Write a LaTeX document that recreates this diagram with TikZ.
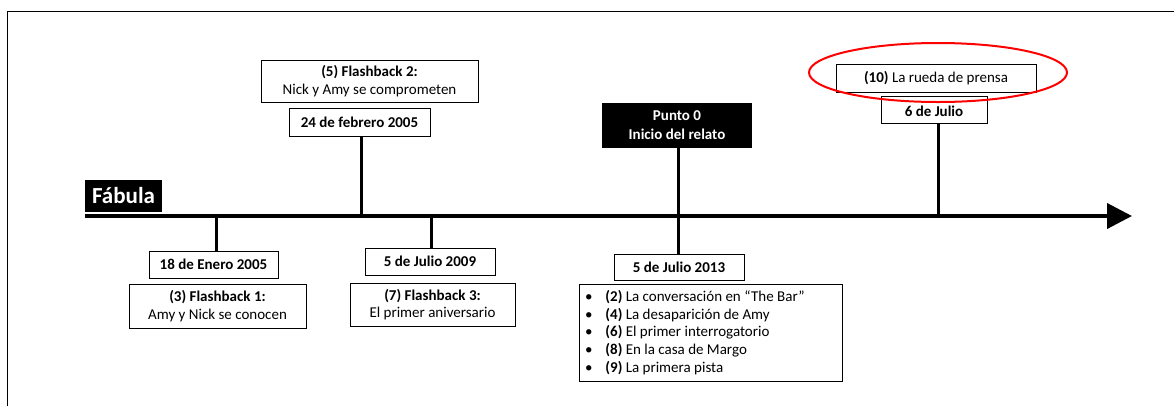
\documentclass[tikz,border=0pt]{standalone}
\usepackage{fontspec}
\setmainfont{Carlito}
\usetikzlibrary{arrows.meta,shapes.geometric}
\begin{document}
\begin{tikzpicture}[x=1pt,y=-1pt,
  box/.style={draw=black,line width=0.8pt,fill=white,inner sep=0pt,align=center,font=\fontsize{15}{17.5}\selectfont},
  datebox/.style={box,font=\bfseries\fontsize{15}{17.5}\selectfont},
  blackbox/.style={fill=black,text=white,inner sep=0pt,align=center,font=\bfseries\fontsize{15}{19}\selectfont},
  tick/.style={line width=3pt},
  axis/.style={line width=4pt,-{Triangle[length=25pt,width=25pt]}},
]
\useasboundingbox (0,0) rectangle (1174,405);
\begin{scope}
\clip (0,0) rectangle (1174,405);
\draw[line width=1pt] (7,411) -- (7,11) -- (1180,11);
\end{scope}

% axis
\coordinate (a0) at (85,216);
\coordinate (a1) at (1132,216);
\draw[axis] (a0) -- (a1);

% tick coordinates on axis
\coordinate (t1) at (216,216);
\coordinate (t2) at (361,216);
\coordinate (t3) at (431,216);
\coordinate (t4) at (678,216);
\coordinate (t5) at (938,216);

% Fabula
\node[blackbox,minimum width=77pt,minimum height=32pt,font=\bfseries\fontsize{23}{24}\selectfont] (fab) at (123.5,196) {Fábula};

% Nodes
\node[datebox,minimum width=129pt,minimum height=27pt] (d1) at (213.5,264.5) {18 de Enero 2005};
\node[box,minimum width=177pt,minimum height=44pt] (f1) at (217.5,306) {\textbf{(3) Flashback 1:}\\Amy y Nick se conocen};

\node[datebox,minimum width=141pt,minimum height=28pt] (d2) at (359.5,122) {24 de febrero 2005};
\node[box,minimum width=217pt,minimum height=42pt] (f2) at (369.5,81) {\textbf{(5) Flashback 2:}\\Nick y Amy se comprometen};

\node[datebox,minimum width=130pt,minimum height=27pt] (d3) at (430,261.5) {5 de Julio 2009};
\node[box,minimum width=165pt,minimum height=43pt] (f3) at (432.5,304.5) {\textbf{(7) Flashback 3:}\\El primer aniversario};

\node[blackbox,minimum width=150pt,minimum height=45pt] (p0) at (677,125.5) {Punto 0\\Inicio del relato};
\node[datebox,minimum width=130pt,minimum height=26pt] (d4) at (679,267) {5 de Julio 2013};
\node[box,text width=253pt,inner xsep=5pt,minimum height=97pt,align=flush left,font=\fontsize{15}{17.7}\selectfont] (lst) at (710.5,332.5) {%
\hspace*{1pt}\textbullet\hspace{13pt}\textbf{(2)} La conversación en “The Bar”\\
\hspace*{1pt}\textbullet\hspace{13pt}\textbf{(4)} La desaparición de Amy\\
\hspace*{1pt}\textbullet\hspace{13pt}\textbf{(6)} El primer interrogatorio\\
\hspace*{1pt}\textbullet\hspace{13pt}\textbf{(8)} En la casa de Margo\\
\hspace*{1pt}\textbullet\hspace{13pt}\textbf{(9)} La primera pista};

\node[datebox,minimum width=106pt,minimum height=27pt,text height=13pt,text depth=0pt] (d5) at (934,109.5) {6 de Julio};
\node[box,minimum width=200pt,minimum height=28pt] (f10) at (936,78) {\textbf{(10)} La rueda de prensa};
\node[draw=red,line width=2pt,ellipse,minimum width=258pt,minimum height=59pt] (el) at (938,72.5) {};

% ticks
\draw[tick] (t1) -- (t1 |- d1.north);
\draw[tick] (t2) -- (t2 |- d2.south);
\draw[tick] (t3) -- (t3 |- d3.north);
\draw[tick] (t4 |- p0.south) -- (t4 |- d4.north);
\draw[tick] (t5) -- (t5 |- d5.south);
\end{tikzpicture}
\end{document}
